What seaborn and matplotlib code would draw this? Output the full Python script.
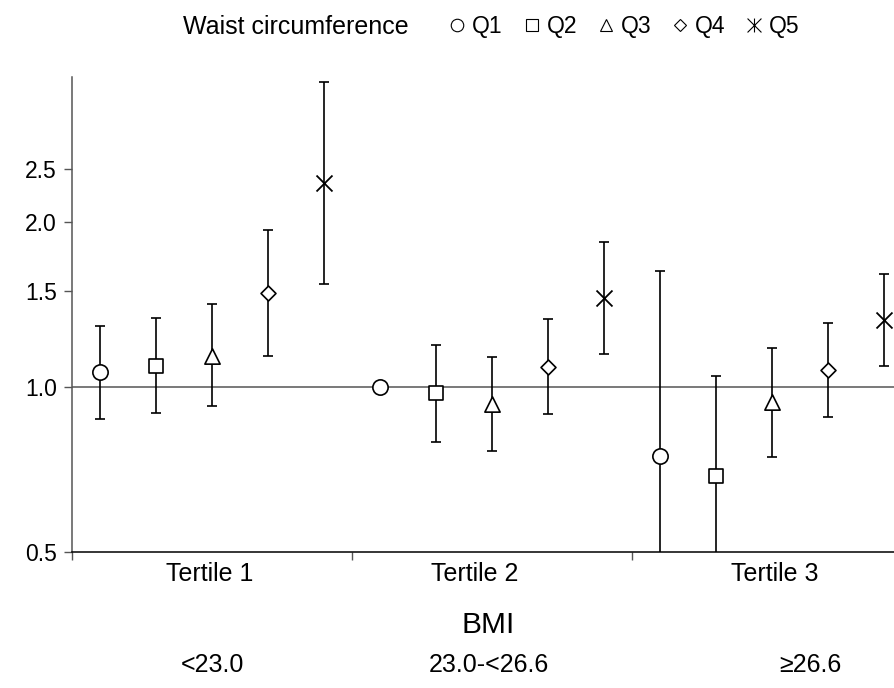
import numpy as np
import pandas as pd
import matplotlib
matplotlib.use("Agg")
import matplotlib.pyplot as plt
import seaborn as sns
from matplotlib.lines import Line2D
from matplotlib.path import Path
from matplotlib.ticker import FixedLocator, NullLocator, FuncFormatter

# ---- data ----
tertiles = ["Tertile 1", "Tertile 2", "Tertile 3"]
bmi_ranges = ["<23.0", "23.0-<26.6", "\u226526.6"]
quintiles = ["Q1", "Q2", "Q3", "Q4", "Q5"]

or_t1 = [1.064, 1.094, 1.139, 1.486, 2.353]
lo_t1 = [0.874, 0.895, 0.923, 1.140, 1.543]
hi_t1 = [1.294, 1.338, 1.416, 1.934, 3.600]

or_t2 = [1.000, 0.974, 0.931, 1.089, 1.453]
lo_t2 = [np.nan, 0.794, 0.765, 0.892, 1.150]
hi_t2 = [np.nan, 1.194, 1.136, 1.329, 1.839]

or_t3 = [0.749, 0.689, 0.938, 1.075, 1.325]
lo_t3 = [0.345, 0.455, 0.745, 0.883, 1.094]
hi_t3 = [1.628, 1.049, 1.178, 1.310, 1.608]

y_ticks = [0.5, 1.0, 1.5, 2.0, 2.5]

rows = []
for gi, (o, l, h) in enumerate([(or_t1, lo_t1, hi_t1), (or_t2, lo_t2, hi_t2), (or_t3, lo_t3, hi_t3)]):
    for qi, q in enumerate(quintiles):
        rows.append(dict(tertile=tertiles[gi], quintile=q, pos=gi * 5 + qi + 1,
                         OR=o[qi], lo=l[qi], hi=h[qi]))
df = pd.DataFrame(rows)

# ---- style ----
sns.set_style("white")
plt.rcParams["font.family"] = ["Liberation Sans", "DejaVu Sans"]
plt.rcParams["text.color"] = "black"
plt.rcParams["xtick.labelcolor"] = "black"
plt.rcParams["ytick.labelcolor"] = "black"

fig = plt.figure(figsize=(8.95, 6.88), dpi=100)
ax = fig.add_axes([0.0804, 0.1977, 0.9196, 0.6903])

spine_col = "#555555"
ax.axhline(1.0, color=spine_col, lw=1.1, zorder=1)

ci = df.dropna(subset=["lo", "hi"])
ax.errorbar(ci["pos"], ci["OR"], yerr=[ci["OR"] - ci["lo"], ci["hi"] - ci["OR"]],
            fmt="none", ecolor="black", elinewidth=1.2, capsize=3.5, capthick=1.2, zorder=2)

marker_map = {"Q1": "o", "Q2": "s", "Q3": "^", "Q4": "D", "Q5": "x"}
size_map = {"Q1": 11.0, "Q2": 10.5, "Q3": 11.0, "Q4": 7.6, "Q5": 11.5}
for q in quintiles:
    sub = df[df["quintile"] == q]
    if marker_map[q] == "x":
        sns.scatterplot(data=sub, x="pos", y="OR", marker="x", s=size_map[q] ** 2,
                        color="black", linewidth=1.3, zorder=3, ax=ax, legend=False)
    else:
        sns.scatterplot(data=sub, x="pos", y="OR", marker=marker_map[q], s=size_map[q] ** 2,
                        color="white", edgecolor="black", linewidth=1.2, zorder=3,
                        ax=ax, legend=False)

ax.set_yscale("log")
ax.set_ylim(0.5, 3.68)
ax.set_xlim(0.5, 15.2)
ax.yaxis.set_major_locator(FixedLocator(y_ticks))
ax.yaxis.set_minor_locator(NullLocator())
ax.yaxis.set_major_formatter(FuncFormatter(lambda v, p: f"{v:.1f}"))
ax.tick_params(axis="y", which="major", direction="out", length=6, width=1,
               color=spine_col, labelcolor="black", labelsize=16.5, pad=5, left=True)

ax.set_xticks([2.96, 7.7, 13.05])
ax.set_xticklabels(tertiles)
ax.set_xticks([0.5, 5.5, 10.5], minor=True)
ax.tick_params(axis="x", which="major", length=0, labelsize=18, labelcolor="black", pad=7)
ax.tick_params(axis="x", which="minor", direction="out", length=6, width=1,
               color=spine_col, bottom=True)
ax.set_xlabel("")
ax.set_ylabel("")

for s in ["top", "right"]:
    ax.spines[s].set_visible(False)
for s in ["left", "bottom"]:
    ax.spines[s].set_color(spine_col)
    ax.spines[s].set_linewidth(1.1)
ax.spines["bottom"].set_color("black")

# BMI labels
fig.text(0.545, 0.0916, "BMI", ha="center", va="center", fontsize=21.5, color="black")
for xf, lab in zip([0.237, 0.546, 0.905], bmi_ranges):
    fig.text(xf, 0.0334, lab, ha="center", va="center", fontsize=18, color="black")

# legend
fig.text(0.331, 0.961, "Waist circumference", ha="center", va="center", fontsize=18,
         color="black")
star = Path([(-1, -1), (1, 1), (-1, 1), (1, -1), (0, -1), (0, 1)],
            [Path.MOVETO, Path.LINETO, Path.MOVETO, Path.LINETO, Path.MOVETO, Path.LINETO])
leg_markers = {"Q1": "o", "Q2": "s", "Q3": "^", "Q4": "D", "Q5": star}
leg_sizes = {"Q1": 9, "Q2": 9, "Q3": 9, "Q4": 6.5, "Q5": 10}
handles = [Line2D([], [], linestyle="none", marker=leg_markers[q], markersize=leg_sizes[q],
                  markerfacecolor="white", markeredgecolor="black", markeredgewidth=0.8,
                  color="black") for q in quintiles]
leg = fig.legend(handles, quintiles, ncol=5, loc="center", bbox_to_anchor=(0.697, 0.961),
                 frameon=False, handlelength=0.8, handletextpad=0.25, columnspacing=0.85,
                 fontsize=16.5, borderaxespad=0, borderpad=0)
for t in leg.get_texts():
    t.set_color("black")

fig.savefig("out.png", dpi=100)
